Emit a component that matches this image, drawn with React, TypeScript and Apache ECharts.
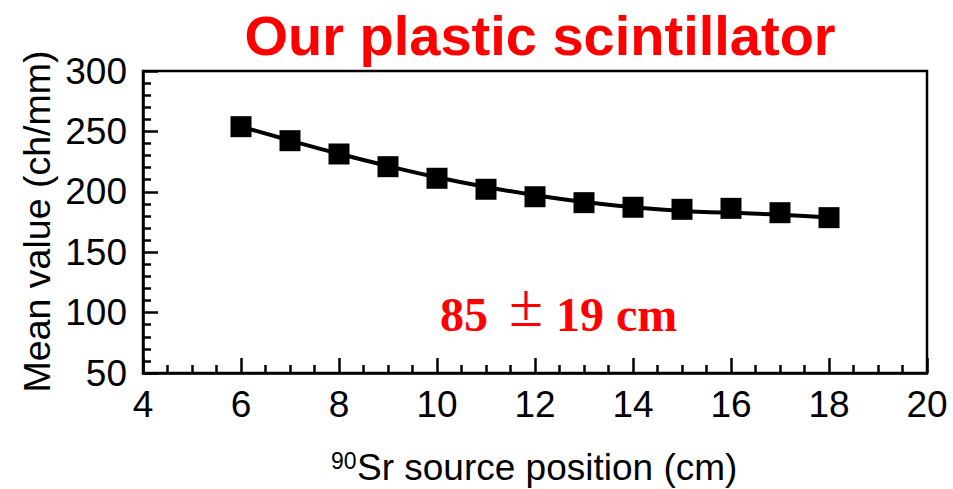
import React, { useEffect, useRef } from "react";
import * as echarts from "echarts";

const positions = [6, 7, 8, 9, 10, 11, 12, 13, 14, 15, 16, 17, 18];
const meanValues = [253.9, 242.3, 231.3, 220.8, 211.2, 202.1, 195.9, 191.0, 187.2, 185.5, 186.3, 182.7, 178.6];
const fitValues = [254.0, 242.5, 231.5, 221.3, 212.0, 204.0, 197.2, 191.6, 187.2, 184.2, 182.6, 181.0, 178.8];

const titleText = "Our plastic scintillator";
const yAxisTitle = "Mean value (ch/mm)";
const xAxisSup = "90";
const xAxisTitle = "Sr source position (cm)";
const annotationParts = ["85", "±", "19 cm"];

export default function App() {
  const ref = useRef<HTMLDivElement>(null);
  useEffect(() => {
    if (!ref.current) return;
    const chart = echarts.init(ref.current, null, { renderer: "svg" });
    const sans = "Liberation Sans, Arial, sans-serif";
    const serif = "Liberation Serif, Times New Roman, serif";
    chart.setOption({
      animation: false,
      backgroundColor: "#fff",
      grid: {
        left: 143,
        right: 26,
        top: 71,
        bottom: 116,
        show: true,
        borderColor: "#000",
        borderWidth: 2.5,
        containLabel: false,
      },
      xAxis: {
        type: "value",
        min: 4,
        max: 20,
        interval: 2,
        axisLine: { show: true, onZero: false, lineStyle: { color: "#000", width: 2.5 } },
        axisTick: { show: true, inside: true, length: 15, lineStyle: { color: "#000", width: 2.5 } },
        minorTick: { show: true, splitNumber: 4, length: 8, lineStyle: { color: "#000", width: 2.5 } },
        splitLine: { show: false },
        axisLabel: { color: "#000", fontFamily: sans, fontSize: 37, margin: 13 },
      },
      yAxis: {
        type: "value",
        min: 50,
        max: 300,
        interval: 50,
        axisLine: { show: true, onZero: false, lineStyle: { color: "#000", width: 2.5 } },
        axisTick: { show: true, inside: true, length: 15, lineStyle: { color: "#000", width: 2.5 } },
        minorTick: { show: true, splitNumber: 5, length: 8, lineStyle: { color: "#000", width: 2.5 } },
        splitLine: { show: false },
        axisLabel: { color: "#000", fontFamily: sans, fontSize: 37, margin: 16 },
      },
      series: [
        {
          type: "line",
          data: positions.map((x, i) => [x, fitValues[i]]),
          smooth: true,
          symbol: "none",
          lineStyle: { color: "#000", width: 4 },
          z: 2,
        },
        {
          type: "scatter",
          data: positions.map((x, i) => [x, meanValues[i]]),
          symbol: "rect",
          symbolSize: 21,
          itemStyle: { color: "#000", opacity: 1 },
          z: 3,
        },
      ],
      graphic: [
        {
          type: "text",
          x: 540,
          y: 35.5,
          style: {
            text: titleText,
            fontFamily: sans,
            fontWeight: "bold",
            fontSize: 56,
            fill: "#ff0000",
            align: "center",
            verticalAlign: "middle",
          },
        },
        {
          type: "text",
          x: 440,
          y: 314,
          style: {
            text: annotationParts[0],
            fontFamily: serif,
            fontWeight: "bold",
            fontSize: 48,
            fill: "#ff0000",
            align: "left",
            verticalAlign: "middle",
          },
        },
        {
          type: "text",
          x: 526,
          y: 305,
          style: {
            text: annotationParts[1],
            fontFamily: serif,
            fontWeight: "normal",
            fontSize: 62,
            fill: "#ff0000",
            align: "center",
            verticalAlign: "middle",
          },
        },
        {
          type: "text",
          x: 556,
          y: 314,
          style: {
            text: annotationParts[2],
            fontFamily: serif,
            fontWeight: "bold",
            fontSize: 48,
            fill: "#ff0000",
            align: "left",
            verticalAlign: "middle",
          },
        },
        {
          type: "text",
          x: 37,
          y: 221.5,
          rotation: Math.PI / 2,
          style: {
            text: yAxisTitle,
            fontFamily: sans,
            fontSize: 37.5,
            fill: "#000",
            align: "center",
            verticalAlign: "middle",
          },
        },
        {
          type: "text",
          x: 331,
          y: 460.5,
          style: {
            text: xAxisSup,
            fontFamily: sans,
            fontSize: 23,
            fill: "#000",
            align: "left",
            verticalAlign: "middle",
          },
        },
        {
          type: "text",
          x: 357,
          y: 467,
          style: {
            text: xAxisTitle,
            fontFamily: sans,
            fontSize: 37,
            fill: "#000",
            align: "left",
            verticalAlign: "middle",
          },
        },
      ],
    });
    return () => chart.dispose();
  }, []);
  return (
    <div
      ref={ref}
      style={{ position: "fixed", left: 0, top: 0, width: 953, height: 489 }}
    />
  );
}
